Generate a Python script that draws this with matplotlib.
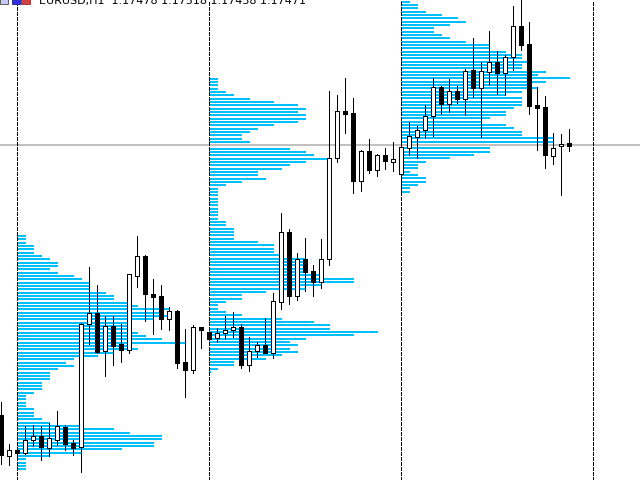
import numpy as np
import matplotlib
matplotlib.use('Agg')
import matplotlib.pyplot as plt
from matplotlib.patches import Rectangle

body_top = [415,450,450,440,436,436,438,426,427,443,324,313,313,326,326,344,274,256,256,294,296,311,311,362,327,327,
            332,333,330,327,327,351,345,345,301,232,232,259,259,271,259,158,111,111,113,151,151,155,155,159,
            147,136,130,116,87,87,91,91,71,70,71,62,62,57,26,26,44,105,107,148,144,143]
body_bot = [455,456,453,453,440,447,448,440,444,448,447,324,352,351,346,350,350,276,294,297,319,319,363,370,370,330,
            339,338,333,330,365,365,351,353,353,302,296,296,272,282,282,259,158,114,181,181,170,170,161,162,
            174,148,137,130,116,104,104,99,99,88,88,72,73,73,57,45,106,108,155,156,146,146]
high = [402,444,450,426,425,426,423,411,425,440,323,267,285,316,316,324,274,236,255,279,285,307,310,329,325,327,
        332,328,316,312,324,337,342,318,293,213,229,253,238,265,239,91,95,78,98,150,139,154,148,142,
        122,122,126,105,78,86,79,86,69,38,62,31,51,55,6,-2,22,87,96,133,134,129]
low = [464,465,456,454,446,460,456,445,450,455,472,344,353,376,365,362,353,287,321,334,329,330,368,397,373,348,
       340,342,339,337,368,371,357,353,358,309,304,300,291,296,288,265,162,133,193,191,173,176,169,171,
       192,155,158,138,136,114,112,103,115,97,137,85,94,95,70,50,114,150,168,164,195,151]
black = [1,0,1,0,0,1,0,0,1,1,0,0,1,0,1,1,0,0,1,1,1,0,1,1,0,1,
         1,0,0,0,1,0,0,1,0,0,1,0,1,1,0,0,0,1,1,0,1,0,1,0,
         0,0,0,0,0,1,0,1,0,1,0,0,1,0,0,1,1,1,1,0,0,1]

# volume profiles: how many bars touched each price level, top level first
profile1 = [1,1,1,2,2,2,3,4,5,5,4,5,7,8,9,9,9,11,12,12,14,15,19,18,19,17,14,14,14,15,16,18,21,14,15,12,10,
            7,6,7,5,4,4,4,3,3,3,2,1,1,1,1,2,2,2,3,4,8,12,14,18,18,17,17,13,8,4,1,1,1,1]
profile2 = [1,1,1,1,2,3,5,8,11,12,11,12,12,11,8,6,5,4,4,5,7,10,12,13,15,12,10,9,6,6,7,4,2,1,1,1,1,1,1,1,1,1,1,2,
            2,3,3,3,3,6,8,8,8,9,12,12,12,12,12,14,18,18,14,12,7,4,4,2,1,1,2,4,9,13,15,15,21,18,12,10,11,10,11,9,7,3,3,1,0.15]
profile3 = [1,2,2,3,5,7,8,6,4,4,5,6,8,11,11,13,15,15,16,15,15,18,17,21,18,16,17,15,13,15,
            15,15,14,13,13,11,10,13,14,15,15,19,19,15,11,11,9,6,3,2,2,1,2,3,3,2,1,1]
profile_start = [2, 26, 50]
profile_top = [236.4, 79, 2]
level_step = 10 / 3

session_lines = [2, 26, 50, 74]
last_price_row = 145
header = 'EURUSD,H1  1.17478 1.17518 1.17438 1.17471'

fig = plt.figure(figsize=(6.4, 4.8), dpi=100)
ax = fig.add_axes([0, 0, 1, 1])
ax.set_xlim(-1.2 / 8, 638.8 / 8)
ax.set_ylim(480, 0)
ax.axis('off')

px = 0.72

for start, top, counts in zip(profile_start, profile_top, [profile1, profile2, profile3]):
    rows = np.floor(top + np.arange(len(counts)) * level_step)
    ax.barh(rows, np.array(counts) + 0.09, left=start, height=2, color='#00BFFF', linewidth=0, zorder=1)

ax.axhline(last_price_row, color='#C0C0C0', lw=2 * px, zorder=2)
for s in session_lines:
    ax.axvline(s, color='black', lw=px, linestyle=(0, (4, 2)), antialiased=False, zorder=3)

x = np.arange(len(high))
ax.vlines(x, high, low, color='black', lw=px, antialiased=False, zorder=4)
colors = ['black' if b else 'white' for b in black]
ax.bar(x, np.array(body_bot) - np.array(body_top), bottom=body_top, width=0.5, color=colors,
       edgecolor='black', linewidth=px, antialiased=False, zorder=5)

# the little toolbar buttons at the top left
for left, w, face, edge in [(-0.1, 0.9, '#C8C8F8', '#606060'), (1.3, 1.0, '#3030E0', '#3030A0'), (2.5, 1.1, '#D04040', '#A04040')]:
    ax.add_patch(Rectangle((left, -1), w, 5, facecolor=face, edgecolor=edge, linewidth=px, zorder=6))

ax.text(38 / 8, 4, header, fontsize=8.0, family='DejaVu Sans', color='black', va='baseline', ha='left', zorder=6)

fig.savefig('out.png', dpi=100)
